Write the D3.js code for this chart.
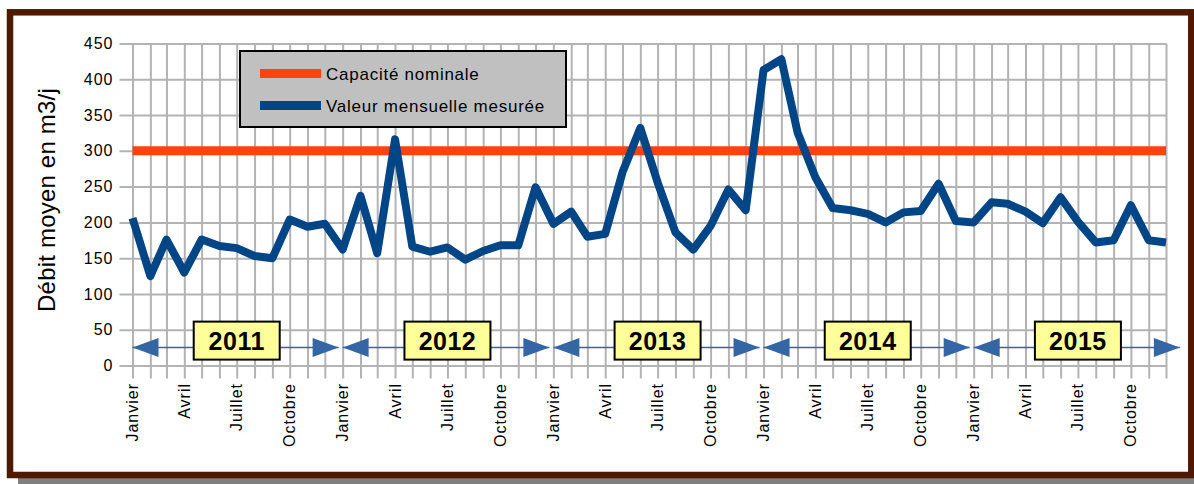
<!DOCTYPE html>
<html>
<head>
<meta charset="utf-8">
<script src="https://cdn.jsdelivr.net/npm/d3@7"></script>
<style>
  body { margin: 0; background: #fff; }
  svg { display: block; }
  text { font-family: "Liberation Sans", Arial, sans-serif; }
</style>
</head>
<body>
<svg class="debit"></svg>
<script>
// valeurs mensuelles (m3/j)
var debit2011 = [206, 125, 176, 130, 176, 167, 164, 153, 150, 204, 194, 198];
var debit2012 = [162, 237, 157, 316, 166, 159, 165, 148, 160, 168, 168, 249];
var debit2013 = [198, 215, 180, 184, 270, 332, 256, 186, 162, 195, 246, 217];
var debit2014 = [413, 428, 326, 263, 220, 217, 212, 200, 214, 216, 254, 202];
var debit2015 = [200, 228, 226, 215, 199, 235, 201, 172, 175, 224, 175, 172];

var annees = [2011, 2012, 2013, 2014, 2015];
var moisLabels = {0: "Janvier", 3: "Avril", 6: "Juillet", 9: "Octobre"};
var capacite = 300;
var yTicks = [0, 50, 100, 150, 200, 250, 300, 350, 400, 450];
var legende = ["Capacité nominale", "Valeur mensuelle mesurée"];
var titreY = "Débit moyen en m3/j";

var svgWidth = 1194, svgHeight = 484;
var margin = {top: 43.5, right: 28, bottom: 118.5, left: 132.5};
var width = 1166 - margin.left;
var height = 365.5 - margin.top;

var debits = [].concat(debit2011, debit2012, debit2013, debit2014, debit2015);
var data = debits.map(function(v, i) {
  return {date: new Date(annees[0], i, 1), v: v};
});
var months = data.map(function(d) { return d.date; });

var svg = d3.select(".debit")
  .attr("width", svgWidth)
  .attr("height", svgHeight);

// ombre + cadre
svg.append("rect")
  .attr("x", 18).attr("y", 20)
  .attr("width", 1181).attr("height", 464)
  .attr("fill", "#7f7f7f");
svg.append("rect")
  .attr("x", 10).attr("y", 12.3)
  .attr("width", 1181.3).attr("height", 462.7)
  .attr("fill", "#fff")
  .attr("stroke", "#4d1900")
  .attr("stroke-width", 6.5);

var g = svg.append("g")
  .attr("transform", "translate(" + margin.left + "," + margin.top + ")");

var x = d3.scaleTime()
  .domain(d3.extent(months))
  .range([0, width]);

var y = d3.scaleLinear()
  .domain([0, 450])
  .range([height, 0]);

// grille horizontale + labels y
var yAxis = g.append("g")
  .attr("transform", "translate(" + width + ",0)")
  .call(d3.axisLeft(y).tickValues(yTicks).tickSize(width + 13).tickPadding(6));
yAxis.select(".domain").remove();
yAxis.selectAll("line").attr("stroke", "#b3b3b3").attr("stroke-width", 2);
yAxis.selectAll("text")
  .attr("fill", "#000")
  .style("font-size", "16px")
  .style("letter-spacing", "1px");

// grille verticale
var xAxis = g.append("g")
  .call(d3.axisBottom(x).tickValues(months).tickSize(height + 13).tickFormat(""));
xAxis.select(".domain").remove();
xAxis.selectAll("line").attr("stroke", "#b3b3b3").attr("stroke-width", 2);

// labels des mois, tournés
g.selectAll(".mois")
  .data(months.filter(function(d) { return moisLabels[d.getMonth()]; }))
  .enter().append("text")
  .attr("class", "mois")
  .attr("transform", function(d) {
    return "translate(" + (x(d) + 5.5) + "," + (height + 17.5) + ") rotate(-90)";
  })
  .attr("text-anchor", "end")
  .style("font-size", "16px")
  .style("letter-spacing", "1px")
  .text(function(d) { return moisLabels[d.getMonth()]; });

// titre axe y
svg.append("text")
  .attr("transform", "translate(55,200) rotate(-90)")
  .attr("text-anchor", "middle")
  .style("font-size", "24px")
  .style("letter-spacing", "0.2px")
  .text(titreY);

// flèches des années
var yArrow = y(25);
var arrowLen = 26, arrowHalf = 9.5;
annees.forEach(function(an) {
  var x0 = x(new Date(an, 0, 1));
  var x1 = x(new Date(an + 1, 0, 1)) - 4;
  g.append("line")
    .attr("x1", x0).attr("x2", x1)
    .attr("y1", yArrow).attr("y2", yArrow)
    .attr("stroke", "#3465a4")
    .attr("stroke-width", 1.5);
  g.append("path")
    .attr("d", "M" + x0 + "," + yArrow + "L" + (x0 + arrowLen) + "," + (yArrow - arrowHalf) +
               "L" + (x0 + arrowLen) + "," + (yArrow + arrowHalf) + "Z")
    .attr("fill", "#3465a4");
  g.append("path")
    .attr("d", "M" + x1 + "," + yArrow + "L" + (x1 - arrowLen) + "," + (yArrow - arrowHalf) +
               "L" + (x1 - arrowLen) + "," + (yArrow + arrowHalf) + "Z")
    .attr("fill", "#3465a4");

  var cx = x(new Date(an, 6, 1));
  g.append("rect")
    .attr("x", cx - 43).attr("y", yArrow - 26)
    .attr("width", 86).attr("height", 38)
    .attr("fill", "#ffff99")
    .attr("stroke", "#000")
    .attr("stroke-width", 2);
  g.append("text")
    .attr("x", cx).attr("y", yArrow + 2.5)
    .attr("text-anchor", "middle")
    .style("font-size", "25px")
    .style("font-weight", "bold")
    .style("letter-spacing", "0.5px")
    .text(an);
});

// capacité nominale
g.append("line")
  .attr("x1", 0).attr("x2", width)
  .attr("y1", y(capacite)).attr("y2", y(capacite))
  .attr("stroke", "#ff420e")
  .attr("stroke-width", 9);

// série mesurée
var line = d3.line()
  .x(function(d) { return x(d.date); })
  .y(function(d) { return y(d.v); });

g.append("path")
  .datum(data)
  .attr("fill", "none")
  .attr("stroke", "#004586")
  .attr("stroke-width", 8)
  .attr("stroke-linejoin", "round")
  .attr("d", line);

// légende
var leg = svg.append("g").attr("transform", "translate(240,51)");
leg.append("rect")
  .attr("width", 326).attr("height", 76)
  .attr("fill", "#c0c0c0")
  .attr("stroke", "#000")
  .attr("stroke-width", 2);
var legColors = ["#ff420e", "#004586"];
legende.forEach(function(txt, i) {
  leg.append("line")
    .attr("x1", 20).attr("x2", 81)
    .attr("y1", 22.5 + i * 32).attr("y2", 22.5 + i * 32)
    .attr("stroke", legColors[i])
    .attr("stroke-width", 9);
  leg.append("text")
    .attr("x", 86).attr("y", 28.5 + i * 32)
    .style("font-size", "17px")
    .style("letter-spacing", "0.75px")
    .text(txt);
});
</script>
</body>
</html>
